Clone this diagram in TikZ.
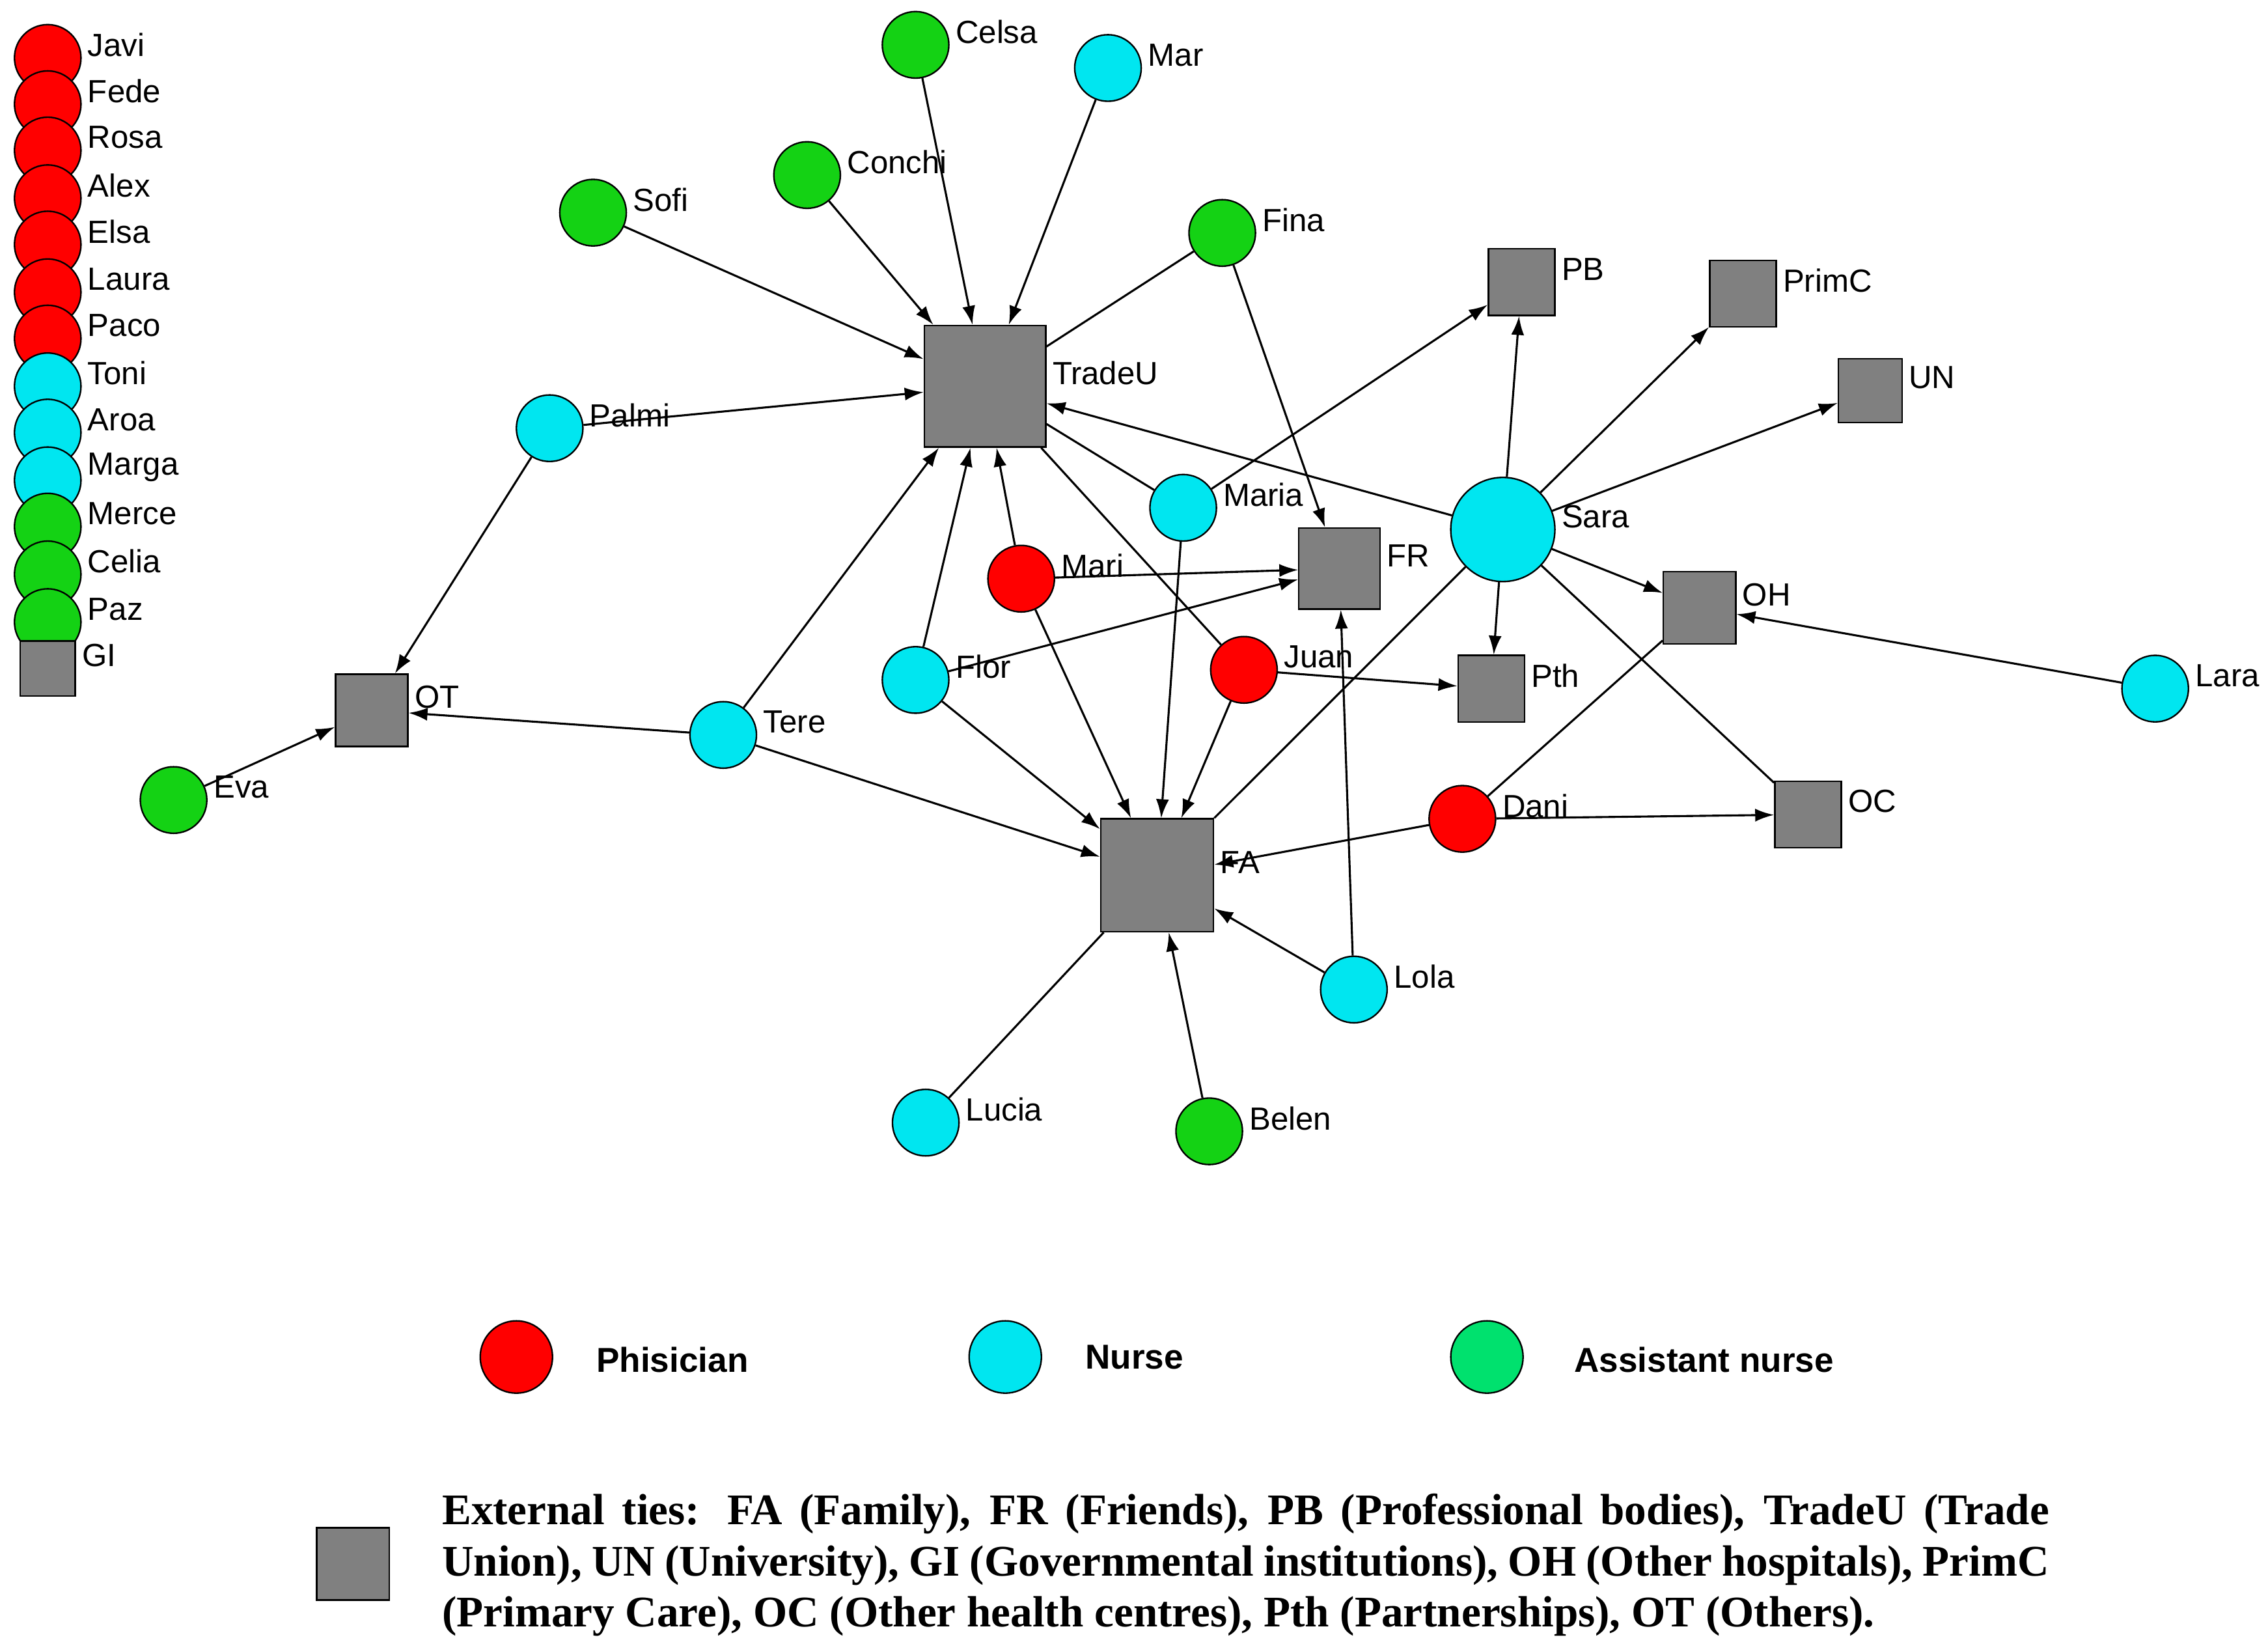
\documentclass[tikz,border=0pt]{standalone}
\usepackage{fontspec}
\setmainfont{Liberation Serif}
\newfontfamily\lab{Liberation Sans}
\usetikzlibrary{arrows.meta}
\definecolor{phys}{RGB}{255,0,0}
\definecolor{nur}{RGB}{0,230,240}
\definecolor{asn}{RGB}{20,210,20}
\definecolor{asnl}{RGB}{0,225,110}
\definecolor{sq}{RGB}{128,128,128}
\begin{document}
\begin{tikzpicture}[x=0.1mm,y=-0.1mm,
 lbl/.style={font=\lab\fontsize{6.3}{7}\selectfont,inner sep=1pt,anchor=west,yshift=0.9mm},
 circ/.style={circle,draw=black,line width=0.3pt,minimum size=4.6mm,inner sep=0pt},
 P/.style={circ,fill=phys},N/.style={circ,fill=nur},A/.style={circ,fill=asn},
 S/.style={rectangle,draw=black,line width=0.3pt,fill=sq,minimum size=#1,inner sep=0pt},
 S/.default=4.6mm,
 ar/.style={-{Latex[length=1.3mm,width=0.9mm]},line width=0.4pt},
 ln/.style={line width=0.4pt}]
\useasboundingbox (0,0) rectangle (1568,1136);
\newcommand\nd[4]{\node[#1,label={[lbl]east:#2}] (#2) at (#3,#4) {};}
% legend column
\nd{P}{Javi}{33}{40}\nd{P}{Fede}{33}{72}\nd{P}{Rosa}{33}{104}\nd{P}{Alex}{33}{137}
\nd{P}{Elsa}{33}{169}\nd{P}{Laura}{33}{202}\nd{P}{Paco}{33}{234}
\nd{N}{Toni}{33}{267}\nd{N}{Aroa}{33}{299}\nd{N}{Marga}{33}{332}
\nd{A}{Merce}{33}{364}\nd{A}{Celia}{33}{397}\nd{A}{Paz}{33}{430}
\nd{S=3.8mm}{GI}{33}{462}
% network
\nd{A}{Celsa}{633}{31}\nd{N}{Mar}{766}{47}\nd{A}{Conchi}{558}{121}
\nd{A}{Sofi}{410}{147}\nd{A}{Fina}{845}{161}
\nd{S=8.4mm}{TradeU}{681}{267}
\nd{S}{PB}{1052}{195}\nd{S}{PrimC}{1205}{203}\nd{S=4.4mm}{UN}{1293}{270}
\nd{N}{Palmi}{380}{296}\nd{N}{Maria}{818}{351}
\node[N,minimum size=7.2mm,label={[lbl]east:Sara}] (Sara) at (1039,366) {};
\nd{S=5.6mm}{FR}{926}{393}\nd{P}{Mari}{706}{400}\nd{S=5mm}{OH}{1175}{420}
\nd{P}{Juan}{860}{463}\nd{S}{Pth}{1031}{476}\nd{N}{Flor}{633}{470}
\nd{N}{Tere}{500}{508}\nd{S=5mm}{OT}{257}{491}\nd{A}{Eva}{120}{553}
\nd{N}{Lara}{1490}{476}\nd{P}{Dani}{1011}{566}\nd{S}{OC}{1250}{563}
\nd{S=7.8mm}{FA}{800}{605}\nd{N}{Lola}{936}{684}\nd{N}{Lucia}{640}{776}
\nd{A}{Belen}{836}{782}
% edges
\foreach \a in {Celsa,Mar,Conchi,Sofi,Palmi,Sara,Mari,Flor,Tere} \draw[ar] (\a) -- (TradeU);
\draw[ln] (Fina) -- (TradeU);
\draw[ln] (Maria) -- (TradeU);
\draw[ln] (TradeU) -- (Juan);
\draw[ar] (Fina) -- (FR);
\draw[ar] (Palmi) -- (OT);
\draw[ar] (Maria) -- (PB);
\foreach \a in {Mari,Flor,Lola} \draw[ar] (\a) -- (FR);
\foreach \a in {Mari,Flor,Maria,Juan,Tere,Dani,Lola,Belen} \draw[ar] (\a) -- (FA);
\draw[ar] (Juan) -- (Pth);
\draw[ar] (Tere) -- (OT);
\draw[ar] (Eva) -- (OT);
\foreach \a in {PB,PrimC,UN,OH,Pth} \draw[ar] (Sara) -- (\a);
\draw[ln] (Sara) -- (OC);
\draw[ln] (Sara) -- (FA);
\draw[ar] (Lara) -- (OH);
\draw[ln] (Dani) -- (OH);
\draw[ar] (Dani) -- (OC);
\draw[ln] (Lucia) -- (FA);
% bottom legend
\node[P,minimum size=5mm] (lp) at (357,938) {};
\node[anchor=west,font=\lab\bfseries\fontsize{6.8}{8}\selectfont] (tp) at (400,940) {Phisician};
\node[N,minimum size=5mm] (ln) at (695,938) {};
\node[anchor=west,font=\lab\bfseries\fontsize{6.8}{8}\selectfont] (tn) at (738,938) {Nurse};
\node[circ,fill=asnl,minimum size=5mm] (la) at (1028,938) {};
\node[anchor=west,font=\lab\bfseries\fontsize{6.8}{8}\selectfont] (ta) at (1076,940) {Assistant nurse};
\node[S=5mm] (lsq) at (244,1081) {};
\node[anchor=north west,inner sep=0pt,text width=111.1mm,align=justify,font=\bfseries\fontsize{8.6}{10}\selectfont] (ext) at (305,1032)
{External ties: FA (Family), FR (Friends), PB (Professional bodies), TradeU (Trade Union), UN (University), GI (Governmental institutions), OH (Other hospitals), PrimC (Primary Care), OC (Other health centres), Pth (Partnerships), OT (Others).};
\end{tikzpicture}
\end{document}
